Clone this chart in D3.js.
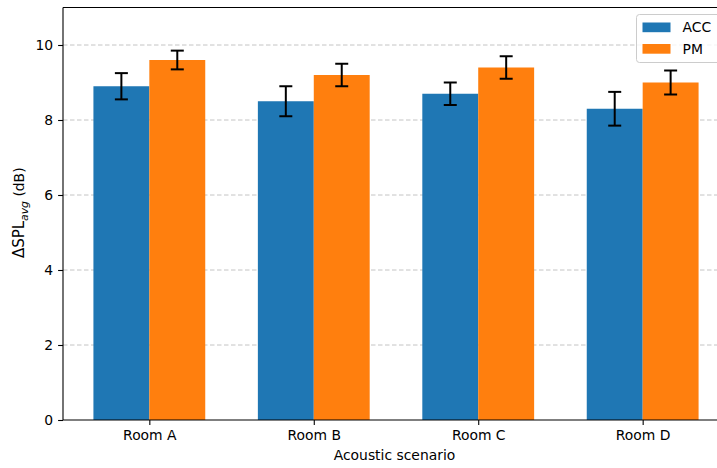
<!DOCTYPE html>
<html>
<head>
<meta charset="utf-8">
<script src="https://cdn.jsdelivr.net/npm/d3@7"></script>
<style>
  html, body { margin: 0; padding: 0; background: #fff; }
  svg { display: block; font-family: "DejaVu Sans", sans-serif; }
</style>
</head>
<body>
<svg id="chart" width="717" height="468"></svg>
<script>
// Mean level difference per room, with standard deviation as error bars
const rooms = ["Room A", "Room B", "Room C", "Room D"];
const seriesNames = ["ACC", "PM"];
const accValues = [8.9, 8.5, 8.7, 8.3];
const accErrors = [0.35, 0.4, 0.3, 0.45];
const pmValues = [9.6, 9.2, 9.4, 9.0];
const pmErrors = [0.25, 0.3, 0.3, 0.32];
const yTicks = [0, 2, 4, 6, 8, 10];
const colors = ["#1f77b4", "#ff7f0e"];

const svg = d3.select("#chart");
const W = 717, H = 468;
svg.append("rect").attr("width", W).attr("height", H).attr("fill", "#fff");

const barW = 0.34;
const x = d3.scaleLinear().domain([-0.525, 3.525]).range([63, 729]);
const y = d3.scaleLinear().domain([0, 11]).range([420, 7.5]);

const series = [
  { name: seriesNames[0], values: accValues, errors: accErrors, color: colors[0], offset: -barW / 2 },
  { name: seriesNames[1], values: pmValues, errors: pmErrors, color: colors[1], offset: barW / 2 }
];

const plot = svg.append("g");

// horizontal dashed grid behind the bars
plot.selectAll("line.grid").data(yTicks.filter(t => t > 0)).join("line")
  .attr("class", "grid")
  .attr("x1", x.range()[0]).attr("x2", x.range()[1])
  .attr("y1", d => y(d)).attr("y2", d => y(d))
  .attr("stroke", "#c4c4c4").attr("stroke-width", 1)
  .attr("stroke-dasharray", "4.5,2.5");

// bars
series.forEach(s => {
  plot.selectAll(null).data(s.values).join("rect")
    .attr("x", (d, i) => x(i + s.offset - barW / 2))
    .attr("width", x(barW) - x(0))
    .attr("y", d => y(d))
    .attr("height", d => y(0) - y(d))
    .attr("fill", s.color);
});

// error bars with caps
const cap = 6.5;
series.forEach(s => {
  const g = plot.append("g").attr("stroke", "#000").attr("stroke-width", 2);
  s.values.forEach((v, i) => {
    const cx = x(i + s.offset);
    const lo = y(v - s.errors[i]), hi = y(v + s.errors[i]);
    g.append("line").attr("x1", cx).attr("x2", cx).attr("y1", lo).attr("y2", hi);
    g.append("line").attr("x1", cx - cap).attr("x2", cx + cap).attr("y1", lo).attr("y2", lo);
    g.append("line").attr("x1", cx - cap).attr("x2", cx + cap).attr("y1", hi).attr("y2", hi);
  });
});

// axes
const fontSize = "13.9px";
const yAxis = svg.append("g")
  .attr("transform", `translate(${x.range()[0]},0)`)
  .call(d3.axisLeft(y).tickValues(yTicks).tickFormat(d3.format("d")).tickSize(4.9).tickPadding(4.9));
const xAxis = svg.append("g")
  .attr("transform", `translate(0,${y(0)})`)
  .call(d3.axisBottom(x).tickValues(d3.range(rooms.length)).tickFormat(i => rooms[i]).tickSize(4.9).tickPadding(4.9));

[xAxis, yAxis].forEach(a => {
  a.select(".domain").remove();
  a.selectAll(".tick line").attr("stroke", "#000").attr("stroke-width", 1.1);
  a.selectAll(".tick text").attr("fill", "#000").style("font-size", fontSize).style("font-family", "DejaVu Sans");
});

// spines
const spines = svg.append("g").attr("stroke", "#000").attr("stroke-width", 1.1).attr("fill", "none");
spines.append("line").attr("x1", x.range()[0]).attr("x2", x.range()[0]).attr("y1", y(11)).attr("y2", y(0));
spines.append("line").attr("x1", x.range()[0]).attr("x2", x.range()[1]).attr("y1", y(0)).attr("y2", y(0));
spines.append("line").attr("x1", x.range()[0]).attr("x2", x.range()[1]).attr("y1", y(11)).attr("y2", y(11));
spines.append("line").attr("x1", x.range()[1]).attr("x2", x.range()[1]).attr("y1", y(11)).attr("y2", y(0));

// axis titles
svg.append("text")
  .attr("x", (x.range()[0] + 662) / 2 + 32).attr("y", 460)
  .attr("text-anchor", "middle").style("font-size", fontSize).attr("fill", "#000")
  .text("Acoustic scenario");

const yl = svg.append("text")
  .attr("transform", `translate(24,${(y(0) + y(11)) / 2 - 1}) rotate(-90)`)
  .attr("text-anchor", "middle").style("font-size", "15px").attr("fill", "#000");
yl.append("tspan").text("ΔSPL");
yl.append("tspan").attr("dy", 3.5).style("font-size", "10.8px").style("font-style", "italic").text("avg");
yl.append("tspan").attr("dy", -3.5).style("font-size", fontSize).text(" (dB)");

// legend
const lg = svg.append("g").attr("transform", "translate(636.5,14.5)");
lg.append("rect").attr("x", 0).attr("y", 0).attr("width", 86).attr("height", 48)
  .attr("rx", 3).attr("fill", "#fff").attr("fill-opacity", 0.8)
  .attr("stroke", "#cccccc").attr("stroke-width", 1);
series.forEach((s, i) => {
  const ly = 8 + i * 21.5;
  lg.append("rect").attr("x", 6).attr("y", ly).attr("width", 28).attr("height", 9.7).attr("fill", s.color);
  lg.append("text").attr("x", 46).attr("y", ly + 9.8).style("font-size", fontSize).attr("fill", "#000").text(s.name);
});
</script>
</body>
</html>
